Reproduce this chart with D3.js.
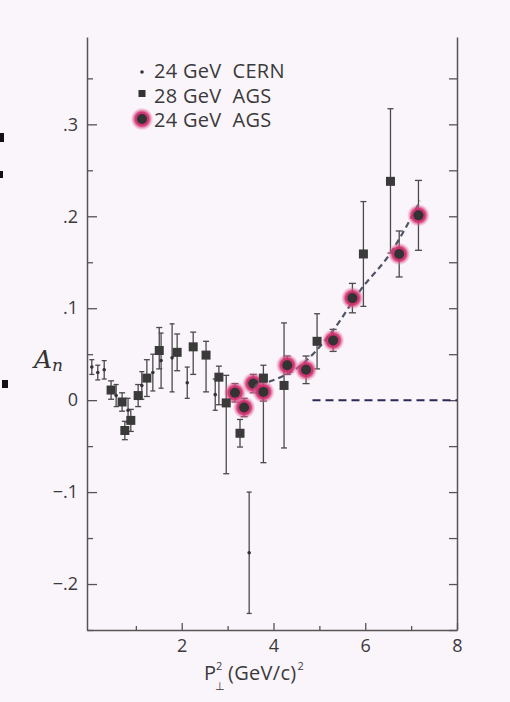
<!DOCTYPE html>
<html>
<head>
<meta charset="utf-8">
<script src="https://cdn.jsdelivr.net/npm/d3@7"></script>
<style>
  body { margin: 0; background: #faf5fa; }
  svg { display: block; }
</style>
</head>
<body>
<svg width="510" height="702" id="mainsvg"></svg>
<script>
// 24 GeV CERN (small dots)
const cernX   = [0.04, 0.17, 0.31, 0.57, 0.83, 1.13, 1.37, 1.55, 1.79, 2.12, 2.73, 3.47];
const cernY   = [0.036, 0.030, 0.033, 0.005, -0.011, 0.016, 0.030, 0.043, 0.046, 0.019, 0.006, -0.166];
const cernErr = [0.008, 0.008, 0.010, 0.012, 0.013, 0.015, 0.020, 0.030, 0.037, 0.017, 0.017, 0.066];

// 28 GeV AGS (squares)
const ags28X  = [0.46, 0.70, 0.76, 0.89, 1.05, 1.24, 1.51, 1.90, 2.25, 2.53, 2.81, 2.97, 3.27, 3.78, 4.23, 4.95, 5.96, 6.55];
const ags28Y  = [0.011, -0.002, -0.033, -0.022, 0.005, 0.024, 0.054, 0.052, 0.058, 0.049, 0.025, -0.003, -0.036, 0.024, 0.016, 0.064, 0.159, 0.238];
const ags28Lo = [0.010, 0.010, 0.010, 0.012, 0.012, 0.020, 0.020, 0.020, 0.030, 0.040, 0.030, 0.077, 0.015, 0.092, 0.068, 0.030, 0.057, 0.078];
const ags28Hi = [0.010, 0.010, 0.010, 0.012, 0.012, 0.020, 0.025, 0.020, 0.016, 0.015, 0.012, 0.030, 0.015, 0.014, 0.068, 0.030, 0.057, 0.079];

// 24 GeV AGS (circles)
const ags24X   = [3.16, 3.36, 3.56, 3.78, 4.30, 4.71, 5.30, 5.72, 6.74, 7.16];
const ags24Y   = [0.008, -0.008, 0.018, 0.009, 0.038, 0.033, 0.065, 0.111, 0.159, 0.201];
const ags24Err = [0.010, 0.010, 0.010, 0.010, 0.010, 0.015, 0.012, 0.016, 0.025, 0.038];

// dashed guide through the high-pt points, and the zero line
const fitX = [3.90, 4.60, 5.30, 5.90, 6.55, 7.20];
const fitY = [0.020, 0.038, 0.076, 0.120, 0.160, 0.217];
const zeroX = [4.85, 8];

const xMajor = [2, 4, 6, 8];
const xMinor = [1, 3, 5, 7];
const yMajor = [-0.2, -0.1, 0, 0.1, 0.2, 0.3];
const yMinor = [-0.25, -0.15, -0.05, 0.05, 0.15, 0.25, 0.35];
const yRight = [-0.25, -0.2, -0.15, -0.1, -0.05, 0, 0.05, 0.1, 0.15, 0.2, 0.25, 0.3, 0.35];
const legendLabels = ['24 GeV  CERN', '28 GeV  AGS', '24 GeV  AGS'];

const svg = d3.select('#mainsvg');
const frameL = 87, frameR = 457, frameT = 37, frameB = 630;

const x = d3.scaleLinear().domain([-0.065, 8]).range([frameL, frameR]);
const y = d3.scaleLinear().domain([-0.25, 0.395]).range([frameB, frameT]);

// halo for the 24 GeV AGS circles
const defs = svg.append('defs');
const grad = defs.append('radialGradient').attr('id', 'halo');
grad.append('stop').attr('offset', '0%').attr('stop-color', '#b02462');
grad.append('stop').attr('offset', '60%').attr('stop-color', '#d0306e').attr('stop-opacity', 0.95);
grad.append('stop').attr('offset', '100%').attr('stop-color', '#ee90bb').attr('stop-opacity', 0);

const fmt = d => d === 0 ? '0' : d3.format('.1f')(d).replace('0.', '.');

// axes
const axisStyle = g => {
  g.selectAll('path.domain').attr('stroke', '#555').attr('stroke-width', 1.5);
  g.selectAll('.tick line').attr('stroke', '#555').attr('stroke-width', 1.3);
  g.selectAll('.tick text').attr('fill', '#3a3a3a').attr('font-family', 'Open Sans').attr('font-size', 18);
};

svg.append('g').attr('transform', `translate(${frameL},0)`)
  .call(d3.axisLeft(y).tickValues(yMajor).tickSize(-10).tickSizeOuter(0).tickPadding(9).tickFormat(fmt))
  .call(axisStyle);
svg.append('g').attr('transform', `translate(${frameL},0)`)
  .call(d3.axisLeft(y).tickValues(yMinor).tickSize(-6).tickSizeOuter(0).tickFormat(''))
  .call(axisStyle).call(g => g.select('.domain').remove());

svg.append('g').attr('transform', `translate(${frameR},0)`)
  .call(d3.axisRight(y).tickValues(yRight).tickSize(-8).tickSizeOuter(0).tickFormat(''))
  .call(axisStyle);

svg.append('g').attr('transform', `translate(0,${frameB})`)
  .call(d3.axisBottom(x).tickValues(xMajor).tickSize(-7).tickSizeOuter(0).tickPadding(9).tickFormat(d3.format('d')))
  .call(axisStyle);
svg.append('g').attr('transform', `translate(0,${frameB})`)
  .call(d3.axisBottom(x).tickValues(xMinor).tickSize(-4).tickSizeOuter(0).tickFormat(''))
  .call(axisStyle).call(g => g.select('.domain').remove());

// error bars
const errG = svg.append('g').attr('stroke', '#4a4a4a').attr('stroke-width', 1.3);
function errBar(px, lo, hi, cap) {
  errG.append('line').attr('x1', px).attr('x2', px).attr('y1', y(lo)).attr('y2', y(hi));
  errG.append('line').attr('x1', px - cap).attr('x2', px + cap).attr('y1', y(lo)).attr('y2', y(lo));
  errG.append('line').attr('x1', px - cap).attr('x2', px + cap).attr('y1', y(hi)).attr('y2', y(hi));
}
cernX.forEach((d, i) => errBar(x(d), cernY[i] - cernErr[i], cernY[i] + cernErr[i], 2.5));
ags28X.forEach((d, i) => errBar(x(d), ags28Y[i] - ags28Lo[i], ags28Y[i] + ags28Hi[i], 3));
ags24X.forEach((d, i) => errBar(x(d), ags24Y[i] - ags24Err[i], ags24Y[i] + ags24Err[i], 3.5));

// dashed lines
svg.append('path')
  .attr('d', d3.line().x(d => x(d[0])).y(d => y(d[1])).curve(d3.curveMonotoneX)(fitX.map((d, i) => [d, fitY[i]])))
  .attr('fill', 'none').attr('stroke', '#4e5466').attr('stroke-width', 2.2).attr('stroke-dasharray', '6,4');
svg.append('line')
  .attr('x1', x(zeroX[0])).attr('x2', x(zeroX[1])).attr('y1', y(0)).attr('y2', y(0))
  .attr('stroke', '#2a2a58').attr('stroke-width', 2).attr('stroke-dasharray', '8,5');

// 24 GeV AGS circles
ags24X.forEach((d, i) => {
  svg.append('circle').attr('cx', x(d)).attr('cy', y(ags24Y[i])).attr('r', 11.5).attr('fill', 'url(#halo)');
  svg.append('circle').attr('cx', x(d)).attr('cy', y(ags24Y[i])).attr('r', 5).attr('fill', '#333');
});

// 28 GeV AGS squares
svg.selectAll('rect.sq').data(ags28X).join('rect').attr('class', 'sq')
  .attr('x', d => x(d) - 4.5).attr('y', (d, i) => y(ags28Y[i]) - 4.5)
  .attr('width', 9).attr('height', 9).attr('fill', '#3a3a3a');

// 24 GeV CERN dots
svg.selectAll('circle.cern').data(cernX).join('circle').attr('class', 'cern')
  .attr('cx', d => x(d)).attr('cy', (d, i) => y(cernY[i])).attr('r', 1.8).attr('fill', '#333');

// legend
const lg = svg.append('g').attr('transform', 'translate(142,0)');
lg.append('circle').attr('cx', 0).attr('cy', 72).attr('r', 1.8).attr('fill', '#333');
lg.append('rect').attr('x', -3.5).attr('y', 90).attr('width', 7).attr('height', 7).attr('fill', '#333');
lg.append('circle').attr('cx', 0).attr('cy', 119).attr('r', 11.5).attr('fill', 'url(#halo)');
lg.append('circle').attr('cx', 0).attr('cy', 119).attr('r', 5).attr('fill', '#333');
legendLabels.forEach((t, i) => {
  lg.append('text').text(t).attr('x', 12).attr('y', 78 + i * 24.5)
    .attr('font-family', 'Open Sans').attr('font-size', 20).attr('fill', '#3a3a3a')
    .style('white-space', 'pre').attr('letter-spacing', 0.3);
});

// axis titles
svg.append('text').attr('x', 34).attr('y', 368)
  .attr('font-family', 'DejaVu Serif').attr('font-style', 'italic').attr('font-size', 25).attr('fill', '#333')
  .text('A').append('tspan').attr('font-size', 17).attr('dy', 3).text('n');

const xl = svg.append('text').attr('y', 680).attr('font-family', 'Open Sans').attr('fill', '#3a3a3a').attr('font-size', 20);
xl.append('tspan').attr('x', 204).text('P');
xl.append('tspan').attr('x', 215).attr('dy', 10).attr('font-size', 11).attr('font-family', 'DejaVu Sans').text('⊥');
xl.append('tspan').attr('x', 216).attr('dy', -20).attr('font-size', 11).text('2');
xl.append('tspan').attr('x', 228).attr('dy', 10).attr('letter-spacing', 0.3).text('(GeV/c)');
xl.append('tspan').attr('dy', -10).attr('dx', 1).attr('font-size', 11).text('2');

// scan marks at the left edge
svg.append('rect').attr('x', 0).attr('y', 133).attr('width', 4).attr('height', 9).attr('fill', '#111');
svg.append('rect').attr('x', 0).attr('y', 171).attr('width', 3).attr('height', 7).attr('fill', '#111');
svg.append('rect').attr('x', 2).attr('y', 380).attr('width', 6).attr('height', 8).attr('fill', '#111');
</script>
</body>
</html>
